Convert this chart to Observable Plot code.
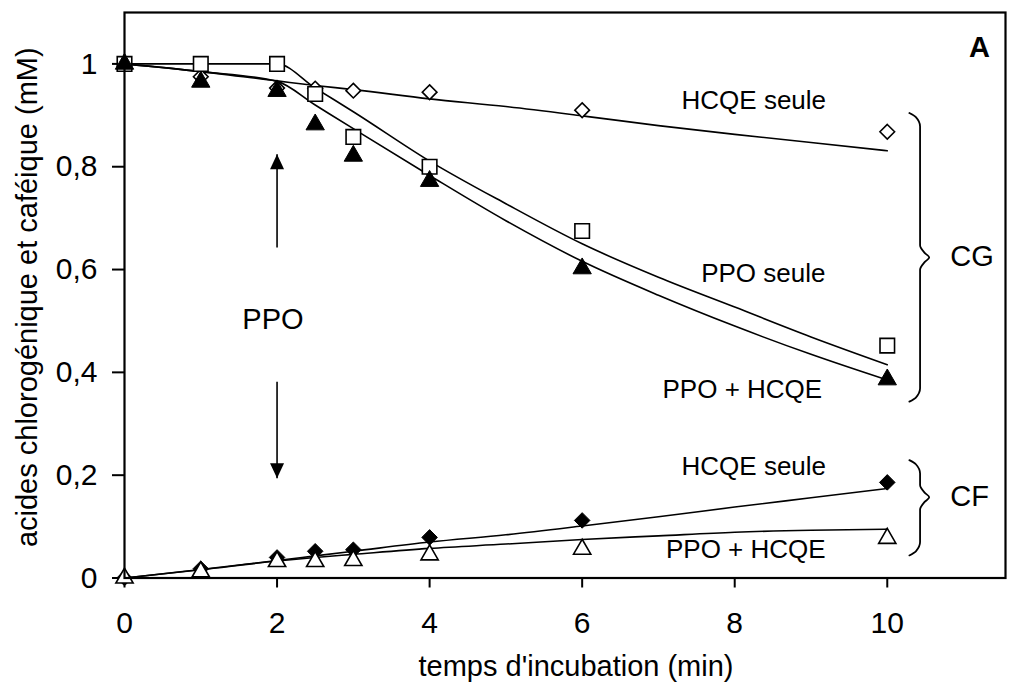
<!DOCTYPE html>
<html>
<head>
<meta charset="utf-8">
<script src="https://cdn.jsdelivr.net/npm/d3@7"></script>
<script src="https://cdn.jsdelivr.net/npm/@observablehq/plot@0.6"></script>
<style>
  html, body { margin: 0; padding: 0; background: #fff; }
</style>
</head>
<body>
<div id="chart"></div>
<script>
// ---- measured points (min, mM) ----
const times = [0, 1, 2, 2.5, 3, 4, 6, 10];
const cgHcqe     = [1.0, 0.975, 0.953, 0.952, 0.948, 0.945, 0.910, 0.868];   // open diamond
const cgPpo      = [1.0, 1.0, 1.0, 0.9415, 0.858, 0.800, 0.675, 0.452];     // open square
const cgPpoHcqe  = [1.0, 0.965, 0.947, 0.882, 0.821, 0.772, 0.602, 0.386];  // filled triangle
const cfHcqe     = [0.0, 0.018, 0.040, 0.052, 0.055, 0.079, 0.112, 0.186];  // filled diamond
const cfPpoHcqe  = [0.0, 0.012, 0.032, 0.032, 0.034, 0.045, 0.056, 0.077];  // open triangle

// ---- fitted curves ----
const fitTimes      = [0, 1, 2, 2.5, 3, 4, 5, 6, 7, 8, 9, 10];
const fitCgHcqe     = [1.0, 0.985, 0.967, 0.958, 0.950, 0.932, 0.917, 0.899, 0.880, 0.863, 0.847, 0.831];
const fitCgPpo      = [1.0, 1.0, 1.0, 0.953, 0.907, 0.811, 0.728, 0.650, 0.585, 0.527, 0.469, 0.415];
const fitCgPpoHcqe  = [1.0, 0.985, 0.966, 0.920, 0.874, 0.783, 0.695, 0.616, 0.550, 0.490, 0.435, 0.385];
const fitCfHcqe     = [0.0, 0.0166, 0.034, 0.043, 0.052, 0.070, 0.084, 0.101, 0.119, 0.138, 0.156, 0.174];
const fitCfPpoHcqe  = [0.0, 0.016, 0.033, 0.040, 0.046, 0.0576, 0.066, 0.075, 0.082, 0.089, 0.093, 0.095];

// ---- ticks ----
const xTicks = [0, 2, 4, 6, 8, 10];
const yTicks = [0, 0.2, 0.4, 0.6, 0.8, 1];

// ---- annotations ----
const annotText = ["HCQE seule", "PPO seule", "PPO + HCQE", "HCQE seule", "PPO + HCQE"];
const annotX    = [8.25, 8.375, 8.10, 8.25, 8.145];
const annotY    = [0.928, 0.5926, 0.3668, 0.2172, 0.0546];
const groupText = ["PPO", "CG", "CF"];
const groupX    = [1.946, 11.11, 11.08];
const groupY    = [0.5024, 0.6244, 0.1577];
const panelText = ["A"];
const panelX    = [11.21];
const panelY    = [1.0316];
// arrows: x, shaft start, tip
const arrowX     = [2, 2];
const arrowFrom  = [0.643, 0.3815];
const arrowTo    = [0.8244, 0.194];
// braces: top, middle, bottom (mM)
const braceTop = [0.9044, 0.2293];
const braceMid = [0.6234, 0.157];
const braceBot = [0.343, 0.0439];

const toRows = (xs, ys) => xs.map((x, i) => ({x, y: ys[i]}));

function braceShape(top, mid, bot) {
  const xl = 10.29, xc = 10.375, xv = 10.43, xm = 10.49, xt = 10.55;
  const c1 = 0.008, c2 = 0.026, t1 = 0.009, t2 = 0.024;
  return [[xl, top], [xc, top - c1], [xv, top - c2], [xv, mid + t2], [xm, mid + t1], [xt, mid],
          [xm, mid - t1], [xv, mid - t2], [xv, bot + c2], [xc, bot + c1], [xl, bot]];
}

const headUp = {draw(ctx) { ctx.moveTo(0, 0); ctx.lineTo(-7, 15); ctx.lineTo(7, 15); ctx.closePath(); }};
const headDown = {draw(ctx) { ctx.moveTo(0, 0); ctx.lineTo(-7, -15); ctx.lineTo(7, -15); ctx.closePath(); }};

const lineOpts = {x: "x", y: "y", stroke: "black", strokeWidth: 1.6, curve: "monotone-x"};
const font = "'Liberation Sans', Arial, Helvetica, sans-serif";

const marks = [
  // fitted curves
  Plot.line(toRows(fitTimes, fitCgHcqe), lineOpts),
  Plot.line(toRows(fitTimes, fitCgPpo), lineOpts),
  Plot.line(toRows(fitTimes, fitCgPpoHcqe), lineOpts),
  Plot.line(toRows(fitTimes, fitCfHcqe), lineOpts),
  Plot.line(toRows(fitTimes, fitCfPpoHcqe), lineOpts),
  // markers
  Plot.dot(toRows(times, cgHcqe), {x: "x", y: "y", symbol: "diamond2", r: 6.6, fill: "white", stroke: "black", strokeWidth: 1.6}),
  Plot.dot(toRows(times, cgPpo), {x: "x", y: "y", symbol: "square", r: 8.2, fill: "white", stroke: "black", strokeWidth: 1.6}),
  Plot.dot(toRows(times, cgPpoHcqe), {x: "x", y: "y", symbol: "triangle", r: 6.8, fill: "black", stroke: "black", strokeWidth: 1}),
  Plot.dot(toRows(times, cfHcqe), {x: "x", y: "y", symbol: "diamond2", r: 7.0, fill: "black", stroke: "black", strokeWidth: 1}),
  Plot.dot(toRows(times, cfPpoHcqe), {x: "x", y: "y", symbol: "triangle", r: 6.4, fill: "white", stroke: "black", strokeWidth: 1.6}),
  // arrows
  Plot.link(arrowX.map((x, i) => ({x, y1: arrowFrom[i], y2: arrowTo[i]})), {x1: "x", x2: "x", y1: "y1", y2: "y2", stroke: "black", strokeWidth: 1.6}),
  Plot.dot([{x: arrowX[0], y: arrowTo[0]}], {x: "x", y: "y", symbol: headUp, fill: "black", stroke: "none"}),
  Plot.dot([{x: arrowX[1], y: arrowTo[1]}], {x: "x", y: "y", symbol: headDown, fill: "black", stroke: "none"}),
  // braces
  ...braceTop.map((t, i) => Plot.line(braceShape(t, braceMid[i], braceBot[i]), {x: d => d[0], y: d => d[1], curve: "monotone-y", stroke: "black", strokeWidth: 1.8})),
  // annotations
  Plot.text(annotText, {x: (d, i) => annotX[i], y: (d, i) => annotY[i], text: d => d, fontSize: 26, fill: "black"}),
  Plot.text([groupText[0]], {x: groupX[0], y: groupY[0], text: d => d, fontSize: 29, fill: "black"}),
  Plot.text(groupText.slice(1), {x: (d, i) => groupX[i + 1], y: (d, i) => groupY[i + 1], text: d => d, fontSize: 29, fill: "black"}),
  Plot.text(panelText, {x: (d, i) => panelX[i], y: (d, i) => panelY[i], text: d => d, fontSize: 29, fontWeight: "bold", fill: "black"}),
  // axis titles
  Plot.text(["temps d'incubation (min)"], {frameAnchor: "bottom", textAnchor: "middle", lineAnchor: "middle", dx: 11, dy: 89, text: d => d, fontSize: 29, fill: "black"}),
  Plot.text(["acides chlorogénique et caféique (mM)"], {frameAnchor: "left", textAnchor: "middle", lineAnchor: "middle", dx: -97, dy: 2, rotate: -90, text: d => d, fontSize: 29, fill: "black"}),
  Plot.frame({stroke: "black", strokeWidth: 2.2})
];

const chart = Plot.plot({
  width: 1022,
  height: 689,
  marginLeft: 124,
  marginRight: 17,
  marginTop: 12,
  marginBottom: 111.5,
  style: {fontFamily: font, fontSize: "30px", background: "white", color: "black", overflow: "visible"},
  x: {domain: [0, 11.55], ticks: xTicks, tickSize: 10, tickPadding: 24, tickFormat: d => String(d), label: null, line: false},
  y: {domain: [0, 1.1], ticks: yTicks, tickSize: 12, tickPadding: 15, tickFormat: d => String(d).replace(".", ","), label: null, line: false},
  marks
});
chart.querySelectorAll("[aria-label='x-axis'] line, [aria-label='y-axis'] line, [aria-label='x-axis tick'] path, [aria-label='y-axis tick'] path").forEach(el => el.setAttribute("stroke-width", 2));
document.getElementById("chart").appendChild(chart);
</script>
</body>
</html>
